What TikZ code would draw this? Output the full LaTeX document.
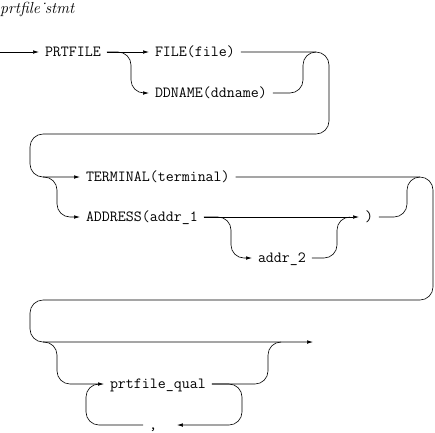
\documentclass[tikz,border=0pt]{standalone}
\usetikzlibrary{arrows.meta}
\tikzstyle{word} = [font=\ttfamily\fontsize{15.5}{18}\selectfont, inner sep=0pt, text height=11pt, text depth=1.5pt, outer xsep=6pt, anchor=west]
\tikzstyle{rail} = [line width=0.6pt, rounded corners=13pt]

\begin{document}
\begin{tikzpicture}[x=1pt, y=-1pt, >={Latex[length=6pt,width=3.6pt]}]
    \useasboundingbox (0,0) rectangle (435,432);
    \node[anchor=base west, inner sep=0pt, font=\itshape\fontsize{16}{19}\selectfont] (title) at (0,13) {prtfile˙stmt};

    % first line
    \coordinate (start) at (0,52);
    \node[word] (prt) at (39,52) {PRTFILE};
    \node[word] (file) at (149,52) {FILE(file)};
    \node[word] (ddname) at (149,93) {DDNAME(ddname)};
    \draw[rail, ->] (start) -- (prt.west);
    \draw[rail, ->] (prt.east) -- (file.west);
    \draw[rail, ->] (prt.east) -- (131,52) -- (131,93) -- (ddname.west);
    \draw[rail] (ddname.east) -- (303,93) -- (303,52) -- (316,52);

    % second line
    \node[word] (term) at (80,177) {TERMINAL(terminal)};
    \node[word] (addr) at (80,217) {ADDRESS(addr\_1};
    \node[word] (addrb) at (252,258) {addr\_2};
    \node[word] (paren) at (359,217) {)};
    \coordinate (bra) at (43,177);
    \draw[rail, ->] (file.east) -- (329,52) -- (329,134) -- (30,134) -- (30,177) -- (term.west);
    \draw[rail, ->] (bra) -- (57,177) -- (57,217) -- (addr.west);
    \draw[rail, ->] (addr.east) -- (paren.west);
    \draw[rail, ->] (addr.east) -- (231,217) -- (231,258) -- (addrb.west);
    \draw[rail] (addrb.east) -- (337,258) -- (337,217) -- (350,217);
    \draw[rail] (paren.east) -- (407,217) -- (407,177) -- (420,177);

    % third line
    \node[word] (qual) at (104,384) {prtfile\_qual};
    \node[word] (comma) at (143,425) {,};
    \coordinate (brq) at (43,342);
    \coordinate (fin) at (313,342);
    \draw[rail, ->] (term.east) -- (433,177) -- (433,300) -- (30,300) -- (30,342) -- (fin);
    \draw[rail, ->] (brq) -- (57,342) -- (57,384) -- (qual.west);
    \draw[rail] (qual.east) -- (268,384) -- (268,342) -- (281,342);
    \draw[rail, ->] (qual.east) -- (242,384) -- (242,425) -- ([xshift=14pt]comma.east);
    \draw[rail] (comma.west) -- (86,425) -- (86,384) -- (99,384);
\end{tikzpicture}
\end{document}
